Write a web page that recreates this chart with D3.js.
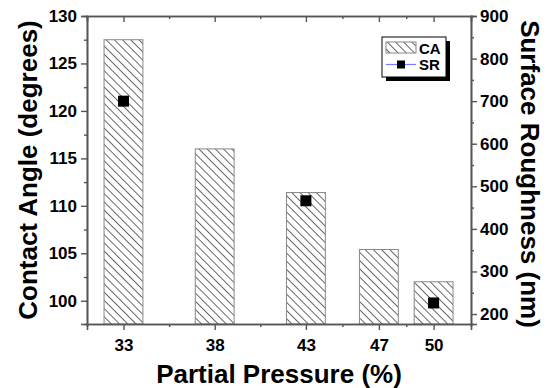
<!DOCTYPE html>
<html><head><meta charset="utf-8">
<script src="https://cdn.jsdelivr.net/npm/d3@7/dist/d3.min.js"></script>
<style>
body{margin:0;background:#fff;}
svg text{font-family:"Liberation Sans",Arial,sans-serif;font-weight:bold;fill:#000;}
</style></head>
<body><svg id="c" width="551" height="388"></svg>
<script>
const categories = [33, 38, 43, 47, 50];
const contactAngle = [127.5, 116.0, 111.4, 105.4, 102.0];
const srCategories = [33, 43, 50];
const surfaceRoughness = [700, 466, 226];
const leftTicks = [100, 105, 110, 115, 120, 125, 130];
const rightTicks = [200, 300, 400, 500, 600, 700, 800, 900];

const svg = d3.select("#c");
const L = 87, R = 471, T = 16, B = 324;
const x = d3.scaleLinear().domain([31, 52.05]).range([L, R]);
const yL = d3.scaleLinear().domain([97.55, 130]).range([B, T]);
const yR = d3.scaleLinear().domain([176.6, 900]).range([B, T]);

const defs = svg.append("defs");
const pat = defs.append("pattern").attr("id","hatch").attr("patternUnits","userSpaceOnUse")
  .attr("width",5.8).attr("height",5.8).attr("patternTransform","rotate(-45)");
pat.append("rect").attr("width",5.8).attr("height",5.8).attr("fill","#fff");
pat.append("line").attr("x1",0.5).attr("y1",0).attr("x2",0.5).attr("y2",5.8)
  .attr("stroke","#555").attr("stroke-width",0.9);

// bars
const bw = x(33 + 2.13) - x(33);
svg.append("g").selectAll("rect").data(categories).join("rect")
  .attr("x", d => x(d) - bw/2)
  .attr("y", (d,i) => yL(contactAngle[i]))
  .attr("width", bw)
  .attr("height", (d,i) => B - yL(contactAngle[i]))
  .attr("fill","url(#hatch)").attr("stroke","#888").attr("stroke-width",1);

// SR markers
svg.append("g").selectAll("rect").data(srCategories).join("rect")
  .attr("x", d => x(d) - 5.5)
  .attr("y", (d,i) => yR(surfaceRoughness[i]) - 5.5)
  .attr("width", 11).attr("height", 11).attr("fill","#000");

const axisColor = "#555";
function styleAxis(g){
  g.select(".domain").attr("stroke",axisColor).attr("stroke-width",1.6);
  g.selectAll(".tick line").attr("stroke",axisColor).attr("stroke-width",1.4);
  g.selectAll(".tick text").attr("font-size",17).attr("fill","#000");
}
const mids = categories.slice(1).map((d,i) => (d + categories[i])/2);
const leftMinor = d3.range(97.5, 130, 2.5).filter(v => v % 5 !== 0 && v >= 97.55);
const rightMinor = d3.range(200, 900, 50).filter(v => v % 100 !== 0);

// minor ticks
svg.append("g").attr("transform",`translate(${L},0)`)
  .call(d3.axisLeft(yL).tickValues(leftMinor).tickSize(3).tickFormat(""))
  .call(styleAxis);
svg.append("g").attr("transform",`translate(${R},0)`)
  .call(d3.axisRight(yR).tickValues(rightMinor).tickSize(3).tickFormat(""))
  .call(styleAxis);
svg.append("g").attr("transform",`translate(0,${B})`)
  .call(d3.axisBottom(x).tickValues(mids).tickSize(3).tickFormat(""))
  .call(styleAxis);
svg.append("g").attr("transform",`translate(0,${T})`)
  .call(d3.axisBottom(x).tickValues(mids).tickSize(3).tickFormat(""))
  .call(styleAxis);

// major axes
svg.append("g").attr("transform",`translate(${L},0)`)
  .call(d3.axisLeft(yL).tickValues(leftTicks).tickSize(6).tickPadding(4).tickFormat(d3.format("d")))
  .call(styleAxis);
svg.append("g").attr("transform",`translate(${R},0)`)
  .call(d3.axisRight(yR).tickValues(rightTicks).tickSize(6).tickPadding(3).tickFormat(d3.format("d")))
  .call(styleAxis);
svg.append("g").attr("transform",`translate(0,${B})`)
  .call(d3.axisBottom(x).tickValues(categories).tickSize(6).tickPadding(9).tickFormat(d3.format("d")))
  .call(styleAxis);
svg.append("g").attr("transform",`translate(0,${T})`)
  .call(d3.axisBottom(x).tickValues(categories).tickSize(6).tickFormat(""))
  .call(styleAxis);

// axis titles
svg.append("text").attr("x",(L+R)/2).attr("y",383).attr("text-anchor","middle")
  .attr("font-size",26).text("Partial Pressure (%)");
svg.append("text").attr("transform",`translate(37,${(T+B)/2}) rotate(-90)`)
  .attr("text-anchor","middle").attr("font-size",26).text("Contact Angle (degrees)");
svg.append("text").attr("transform",`translate(521,${(T+B)/2 + 4}) rotate(90)`)
  .attr("text-anchor","middle").attr("font-size",26).text("Surface Roughness (nm)");

// legend
const lg = svg.append("g");
lg.append("rect").attr("x",386).attr("y",41).attr("width",64).attr("height",40).attr("fill","#000");
lg.append("rect").attr("x",382).attr("y",37).attr("width",64).attr("height",40)
  .attr("fill","#fff").attr("stroke","#000").attr("stroke-width",1);
lg.append("rect").attr("x",386).attr("y",42).attr("width",30).attr("height",11)
  .attr("fill","url(#hatch)").attr("stroke","#888").attr("stroke-width",1);
lg.append("text").attr("x",419).attr("y",53.5).attr("font-size",15).text("CA");
lg.append("line").attr("x1",386).attr("x2",416).attr("y1",64.5).attr("y2",64.5)
  .attr("stroke","#7a7aff").attr("stroke-width",1.2);
lg.append("rect").attr("x",397).attr("y",60.5).attr("width",8).attr("height",8).attr("fill","#000");
lg.append("text").attr("x",419).attr("y",70).attr("font-size",15).text("SR");
</script></body></html>
